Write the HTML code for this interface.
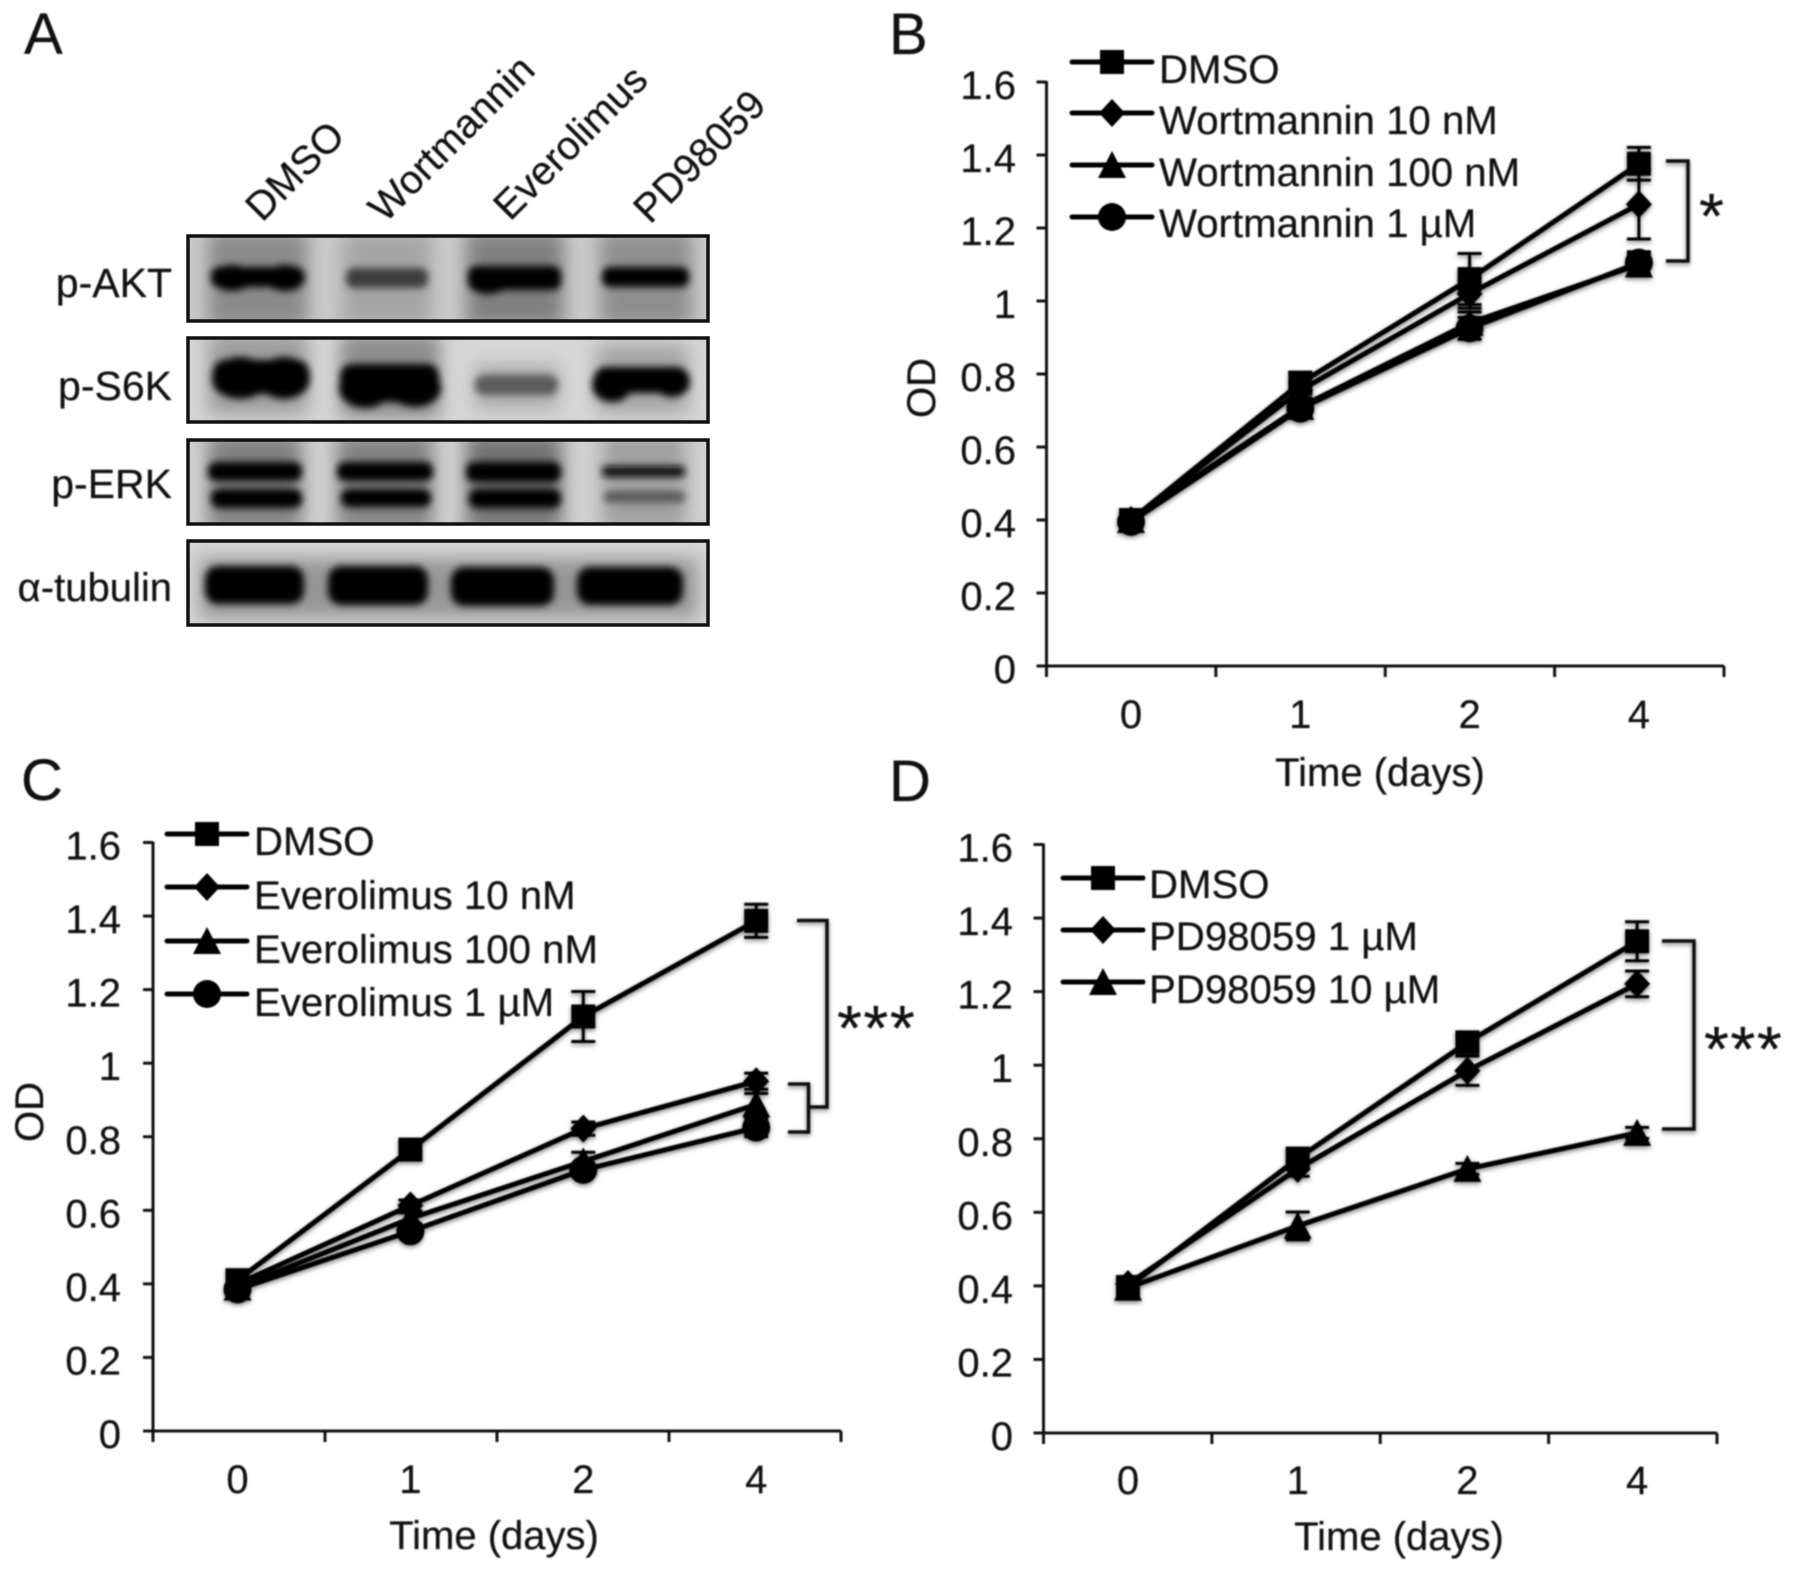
<!DOCTYPE html>
<html lang="en">
<head>
<meta charset="utf-8">
<title>Cell growth under kinase inhibitors</title>
<style>
html,body{margin:0;padding:0;background:#fff;}
#figure{display:block;width:1795px;height:1572px;}
#figure text{font-family:"Liberation Sans","DejaVu Sans",sans-serif;fill:#111;stroke:#111;stroke-width:0.25px;}
#chart-layer,#labels-layer{filter:blur(0.9px);}
</style>
</head>
<body>
<svg id="figure" xmlns="http://www.w3.org/2000/svg" width="1795" height="1572" viewBox="0 0 1795 1572">
<defs>
<filter id="b3" x="-30%" y="-80%" width="160%" height="260%"><feGaussianBlur stdDeviation="3.6"/></filter>
<filter id="b9" x="-30%" y="-80%" width="160%" height="260%"><feGaussianBlur stdDeviation="9"/></filter>
<filter id="shadow" x="-20%" y="-20%" width="140%" height="140%"><feDropShadow dx="0" dy="2" stdDeviation="2.5" flood-color="#000" flood-opacity="0.5"/></filter>
<clipPath id="clip1"><rect x="188" y="236" width="520" height="85"/></clipPath>
<clipPath id="clip2"><rect x="188" y="338" width="520" height="84"/></clipPath>
<clipPath id="clip3"><rect x="188" y="440" width="520" height="84"/></clipPath>
<clipPath id="clip4"><rect x="188" y="541" width="520" height="84"/></clipPath>
</defs>
<rect x="0" y="0" width="1795" height="1572" fill="#fff"/>

<g id="labels-layer">
<text x="24" y="54" font-size="58">A</text>
<text font-size="40" transform="translate(262 223) rotate(-45)">DMSO</text>
<text font-size="40" transform="translate(385 224) rotate(-45)">Wortmannin</text>
<text font-size="40" transform="translate(510 222) rotate(-45)">Everolimus</text>
<text font-size="40" transform="translate(650 225) rotate(-45)">PD98059</text>
<text font-size="41" text-anchor="end" x="172" y="297">p-AKT</text>
<text font-size="41" text-anchor="end" x="172" y="400">p-S6K</text>
<text font-size="41" text-anchor="end" x="172" y="498">p-ERK</text>
<text font-size="40" text-anchor="end" x="172" y="601">α-tubulin</text>
</g>

<g>
<g clip-path="url(#clip1)">
<rect x="188" y="236" width="520" height="85" fill="#cacaca"/>
<g filter="url(#b9)" fill="#8a8a8a">
<rect x="208" y="232" width="100" height="95"/>
<rect x="342" y="232" width="90" height="95" fill="#a6a6a6"/>
<rect x="466" y="232" width="98" height="95" fill="#808080"/>
<rect x="600" y="232" width="92" height="95" fill="#8e8e8e"/>
</g>
<g filter="url(#b3)">
<rect x="211" y="267" width="93" height="20" rx="8" fill="#000"/>
<ellipse cx="232" cy="278" rx="20" ry="13" fill="#000"/>
<ellipse cx="285" cy="278" rx="20" ry="13" fill="#000"/>
<rect x="346" y="268" width="82" height="20" rx="8" fill="#3c3c3c"/>
<rect x="468" y="266" width="93" height="24" rx="8" fill="#000"/>
<ellipse cx="488" cy="281" rx="20" ry="13" fill="#000"/>
<rect x="602" y="267" width="87" height="20" rx="8" fill="#000"/>
</g>
</g>
<rect x="188" y="236" width="520" height="85" fill="none" stroke="#111" stroke-width="3.5"/>
</g>

<g>
<g clip-path="url(#clip2)">
<rect x="188" y="338" width="520" height="84" fill="#d6d6d6"/>
<g filter="url(#b9)">
<rect x="208" y="334" width="100" height="80" fill="#9c9c9c"/>
<rect x="340" y="334" width="100" height="84" fill="#8c8c8c"/>
<rect x="475" y="365" width="83" height="44" fill="#aaa"/>
<rect x="596" y="345" width="92" height="68" fill="#a4a4a4"/>
</g>
<g filter="url(#b3)">
<rect x="213" y="360" width="96" height="34" rx="12" fill="#000"/>
<ellipse cx="240" cy="378" rx="28" ry="21" fill="#000"/>
<ellipse cx="284" cy="378" rx="26" ry="21" fill="#000"/>
<rect x="340" y="364" width="99" height="38" rx="12" fill="#000"/>
<ellipse cx="365" cy="388" rx="26" ry="20" fill="#000"/>
<ellipse cx="415" cy="388" rx="26" ry="19" fill="#000"/>
<rect x="475" y="375" width="83" height="20" rx="9" fill="#5c5c5c"/>
<rect x="594" y="367" width="95" height="26" rx="12" fill="#000"/>
<ellipse cx="612" cy="385" rx="20" ry="17" fill="#000"/>
<ellipse cx="672" cy="382" rx="18" ry="15" fill="#000"/>
</g>
</g>
<rect x="188" y="338" width="520" height="84" fill="none" stroke="#111" stroke-width="3.5"/>
</g>

<g>
<g clip-path="url(#clip3)">
<rect x="188" y="440" width="520" height="84" fill="#d0d0d0"/>
<g filter="url(#b9)">
<rect x="208" y="434" width="94" height="96" fill="#808080"/>
<rect x="337" y="434" width="96" height="96" fill="#828282"/>
<rect x="466" y="434" width="96" height="96" fill="#727272"/>
<rect x="602" y="434" width="84" height="96" fill="#a0a0a0"/>
</g>
<g filter="url(#b3)">
<rect x="208" y="462" width="94" height="19" rx="8" fill="#000"/>
<rect x="211" y="489" width="91" height="19" rx="8" fill="#000"/>
<rect x="337" y="462" width="96" height="19" rx="8" fill="#000"/>
<rect x="341" y="489" width="90" height="18" rx="8" fill="#000"/>
<rect x="466" y="462" width="95" height="20" rx="8" fill="#000"/>
<rect x="469" y="489" width="92" height="19" rx="8" fill="#000"/>
<rect x="602" y="466" width="83" height="11" rx="4" fill="#111"/>
<rect x="604" y="491" width="81" height="12" rx="5" fill="#5c5c5c"/>
</g>
</g>
<rect x="188" y="440" width="520" height="84" fill="none" stroke="#111" stroke-width="3.5"/>
</g>

<g>
<g clip-path="url(#clip4)">
<rect x="188" y="541" width="520" height="84" fill="#d6d6d6"/>
<g filter="url(#b9)">
<rect x="200" y="558" width="498" height="60" fill="#969696"/>
</g>
<g filter="url(#b3)">
<rect x="205" y="566" width="99" height="38" rx="13" fill="#000"/>
<rect x="328" y="566" width="100" height="39" rx="13" fill="#000"/>
<rect x="451" y="567" width="103" height="39" rx="13" fill="#000"/>
<rect x="577" y="567" width="106" height="38" rx="13" fill="#000"/>
</g>
</g>
<rect x="188" y="541" width="520" height="84" fill="none" stroke="#111" stroke-width="3.5"/>
</g>

<g id="chart-layer"></g>
</svg>

<script>
// Shared axis content
const timeCategories = ['0', '1', '2', '4'];
const yTickValues = [0, 0.2, 0.4, 0.6, 0.8, 1, 1.2, 1.4, 1.6];
const yTickLabels = ['0', '0.2', '0.4', '0.6', '0.8', '1', '1.2', '1.4', '1.6'];

// Panel B
const panelBNames = ['DMSO', 'Wortmannin 10 nM', 'Wortmannin 100 nM', 'Wortmannin 1 µM'];
const panelBDmso = [0.40, 0.775, 1.06, 1.376];
const panelBLow = [0.40, 0.755, 1.02, 1.265];
const panelBMid = [0.40, 0.71, 0.94, 1.10];
const panelBHigh = [0.395, 0.705, 0.925, 1.105];
const panelBDmsoErr = [0.02, 0.03, 0.07, 0.045];
const panelBLowErr = [0.02, 0.02, 0.04, 0.095];
const panelBMidErr = [0.02, 0.02, 0.03, 0.03];
const panelBHighErr = [0.02, 0.02, 0.03, 0.03];

// Panel C
const panelCNames = ['DMSO', 'Everolimus 10 nM', 'Everolimus 100 nM', 'Everolimus 1 µM'];
const panelCDmso = [0.41, 0.765, 1.127, 1.387];
const panelCLow = [0.40, 0.613, 0.822, 0.951];
const panelCMid = [0.39, 0.578, 0.733, 0.888];
const panelCHigh = [0.385, 0.543, 0.71, 0.825];
const panelCDmsoErr = [0.02, 0.02, 0.068, 0.045];
const panelCLowErr = [0.02, 0.015, 0.018, 0.022];
const panelCMidErr = [0.02, 0.015, 0.025, 0.03];
const panelCHighErr = [0.02, 0.015, 0.015, 0.025];

// Panel D
const panelDNames = ['DMSO', 'PD98059 1 µM', 'PD98059 10 µM'];
const panelDDmso = [0.397, 0.746, 1.062, 1.337];
const panelDLow = [0.405, 0.718, 0.985, 1.221];
const panelDMid = [0.395, 0.563, 0.718, 0.816];
const panelDDmsoErr = [0.02, 0.025, 0.02, 0.053];
const panelDLowErr = [0.02, 0.02, 0.04, 0.035];
const panelDMidErr = [0.02, 0.038, 0.015, 0.015];

const SVGNS = 'http://www.w3.org/2000/svg';
const root = document.getElementById('chart-layer');

function make(tag, parent, props, content) {
  const node = document.createElementNS(SVGNS, tag);
  Object.keys(props).forEach(function (k) { node.setAttribute(k, props[k]); });
  if (content !== undefined) node.textContent = content;
  parent.appendChild(node);
  return node;
}

function drawMarker(parent, shape, cx, cy) {
  if (shape === 'square') {
    return make('rect', parent, { x: cx - 12, y: cy - 12, width: 24, height: 24, fill: '#000' });
  }
  if (shape === 'diamond') {
    return make('polygon', parent, { points: [cx, cy - 14, cx + 13, cy, cx, cy + 14, cx - 13, cy].join(' '), fill: '#000' });
  }
  if (shape === 'triangle') {
    return make('polygon', parent, { points: [cx, cy - 14, cx + 14, cy + 13, cx - 14, cy + 13].join(' '), fill: '#000' });
  }
  return make('circle', parent, { cx: cx, cy: cy, r: 14, fill: '#000' });
}

const markerShapes = ['square', 'diamond', 'triangle', 'circle'];

function drawPanel(cfg) {
  const g = make('g', root, {});
  
  

  const yScale = function (v) { return cfg.y0 - (v / 1.6) * (cfg.y0 - cfg.y16); };
  const xScale = function (i) { return cfg.xCenters[0] + i * cfg.catW; };

  // Panel letter
  const letter = make('text', g, { x: cfg.letterX, y: cfg.letterY, 'font-size': 58 }, cfg.letter);
  
  

  // Axes
  const yAxis = make('line', g, { x1: cfg.x0, x2: cfg.x0, y1: cfg.y16 - 1, y2: cfg.y0 + 1, stroke: '#111', 'stroke-width': 3 });
  
  
  const xAxis = make('line', g, { x1: cfg.x0, x2: cfg.xEnd, y1: cfg.y0, y2: cfg.y0, stroke: '#111', 'stroke-width': 3 });
  
  

  yTickValues.forEach(function (v, i) {
    const tick = make('line', g, { x1: cfg.x0 - 10, x2: cfg.x0, y1: yScale(v), y2: yScale(v), stroke: '#111', 'stroke-width': 3 });
    
    
    const label = make('text', g, { x: cfg.yLabelX, y: yScale(v) + 17, 'font-size': 40, 'text-anchor': 'end' }, yTickLabels[i]);
    
    
  });

  for (let i = 0; i <= timeCategories.length; i++) {
    const px = cfg.x0 + i * (cfg.xEnd - cfg.x0) / timeCategories.length;
    const tick = make('line', g, { x1: px, x2: px, y1: cfg.y0, y2: cfg.y0 + 11, stroke: '#111', 'stroke-width': 3 });
    
    
  }

  timeCategories.forEach(function (c, i) {
    const label = make('text', g, { x: xScale(i), y: cfg.xLabelY, 'font-size': 40, 'text-anchor': 'middle' }, c);
    
    
  });

  const xTitle = make('text', g, { x: cfg.titleX, y: cfg.titleY, 'font-size': 40, 'text-anchor': 'middle' }, 'Time (days)');
  
  

  if (cfg.odX) {
    const yTitle = make('text', g, { transform: 'translate(' + cfg.odX + ' ' + cfg.odY + ') rotate(-90)', 'font-size': 40, 'text-anchor': 'middle' }, 'OD');
    
    
  }

  // Series
  const marks = make('g', g, { filter: 'url(#shadow)' });
  
  

  cfg.series.forEach(function (values, s) {
    const errs = cfg.errors[s];
    const sg = make('g', marks, {});
    
    

    const pts = values.map(function (v, i) { return xScale(i) + ',' + yScale(v); }).join(' ');
    const line = make('polyline', sg, { points: pts, fill: 'none', stroke: '#000', 'stroke-width': 5 });
    
    

    values.forEach(function (v, i) {
      const cx = xScale(i);
      const top = yScale(v + errs[i]);
      const bottom = yScale(v - errs[i]);
      const err = make('path', sg, {
        d: 'M' + (cx - 12) + ' ' + top + 'H' + (cx + 12) + 'M' + cx + ' ' + top + 'V' + bottom + 'M' + (cx - 12) + ' ' + bottom + 'H' + (cx + 12),
        fill: 'none', stroke: '#000', 'stroke-width': 3
      });
      
      
      const m = drawMarker(sg, markerShapes[s], cx, yScale(v));
      
      
    });
  });

  // Legend
  cfg.names.forEach(function (name, s) {
    const le = make('g', g, {});
    
    
    const ly = cfg.legendY[s];
    const ll = make('line', le, { x1: cfg.legendX0, x2: cfg.legendX1, y1: ly, y2: ly, stroke: '#000', 'stroke-width': 5, 'stroke-linecap': 'round' });
    
    
    const lm = drawMarker(le, markerShapes[s], (cfg.legendX0 + cfg.legendX1) / 2, ly);
    
    
    const lt = make('text', le, { x: cfg.legendTextX, y: cfg.legendTextY[s], 'font-size': 40.2 }, name);
    
    
  });

  // Significance brackets
  const annot = make('g', g, { filter: 'url(#shadow)' });
  
  
  cfg.brackets.forEach(function (d) {
    const b = make('path', annot, { d: d, fill: 'none', stroke: '#111', 'stroke-width': 3.5 });
    
    
  });
  const star = make('text', g, { x: cfg.starX, y: cfg.starY, 'font-size': 64, 'letter-spacing': '1.5px' }, cfg.stars);
  
  
}

drawPanel({
  id: 'panel-b', letter: 'B', letterX: 889, letterY: 54,
  x0: 1046.5, xEnd: 1724, y0: 666, y16: 82,
  xCenters: [1131], catW: 169.3, yLabelX: 1016, xLabelY: 728,
  titleX: 1380, titleY: 786, odX: 935, odY: 388,
  names: panelBNames,
  series: [panelBDmso, panelBLow, panelBMid, panelBHigh],
  errors: [panelBDmsoErr, panelBLowErr, panelBMidErr, panelBHighErr],
  legendX0: 1072, legendX1: 1152, legendY: [62, 113, 165, 217],
  legendTextX: 1159, legendTextY: [83, 134, 186, 237],
  brackets: ['M1666 161H1688V261H1666'],
  stars: '*', starX: 1699, starY: 238
});

drawPanel({
  id: 'panel-c', letter: 'C', letterX: 21, letterY: 800,
  x0: 153, xEnd: 841, y0: 1431, y16: 842.5,
  xCenters: [237.5], catW: 172.9, yLabelX: 121, xLabelY: 1493,
  titleX: 494, titleY: 1549, odX: 43, odY: 1112,
  names: panelCNames,
  series: [panelCDmso, panelCLow, panelCMid, panelCHigh],
  errors: [panelCDmsoErr, panelCLowErr, panelCMidErr, panelCHighErr],
  legendX0: 167, legendX1: 247, legendY: [834, 887, 941, 994],
  legendTextX: 254, legendTextY: [855, 909, 963, 1016],
  brackets: ['M797 920.5H827V1107H810', 'M788 1084H808.5V1132H788'],
  stars: '***', starX: 837, starY: 1050
});

drawPanel({
  id: 'panel-d', letter: 'D', letterX: 889, letterY: 801,
  x0: 1043.5, xEnd: 1717, y0: 1433, y16: 844.5,
  xCenters: [1128], catW: 169.7, yLabelX: 1013, xLabelY: 1494,
  titleX: 1399, titleY: 1550, odX: 0, odY: 0,
  names: panelDNames,
  series: [panelDDmso, panelDLow, panelDMid],
  errors: [panelDDmsoErr, panelDLowErr, panelDMidErr],
  legendX0: 1063, legendX1: 1143, legendY: [878, 930, 982],
  legendTextX: 1149, legendTextY: [898, 950, 1003],
  brackets: ['M1662 941H1694V1129H1662'],
  stars: '***', starX: 1704, starY: 1071
});
</script>
</body>
</html>
